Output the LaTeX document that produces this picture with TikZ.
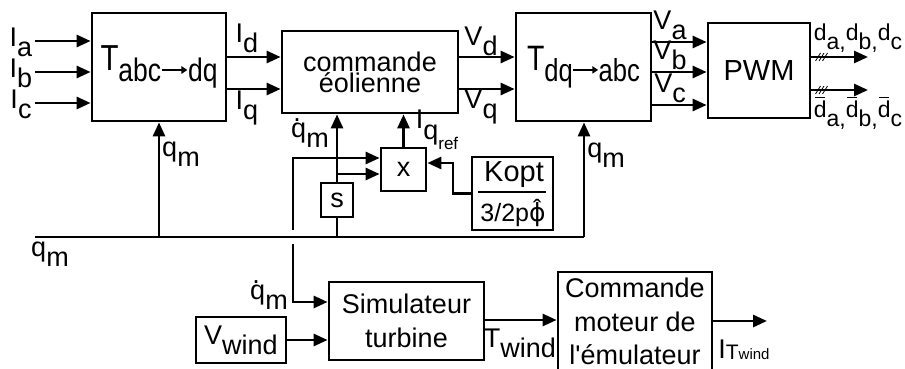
\documentclass[tikz,border=0pt]{standalone}
\usepackage{graphicx}
\usepackage{fontspec}
\setmainfont{Liberation Sans}
\newfontfamily\djv{DejaVu Sans}
\usetikzlibrary{arrows.meta}
\newcommand\fA{\fontsize{27}{27}\selectfont}
\newcommand\sbx[1]{\raisebox{-0.38em}{#1}}
\newcommand\Tsub[4]{\resizebox*{#3}{#4}{{\fontsize{30}{30}\selectfont T}\raisebox{-0.35em}{\fontsize{27}{27}\selectfont #1\raisebox{0.25em}{\tikz\draw[line width=1.3pt,-{Triangle[length=6pt,width=6pt]}] (0pt,0pt) -- (26pt,0pt);}#2}}}
\newcommand\qdot{\leavevmode\setbox0\hbox{q}\rlap{\hbox to\wd0{\hss\raisebox{0.6em}{.}\hspace{0.12em}\hss}}\box0}
\newcommand\hphi{\leavevmode\setbox0\hbox{\djv ϕ}\rlap{\hbox to\wd0{\hss\raisebox{0.16em}{ˆ}\hss}}\box0}
\newcommand\dbar{\leavevmode\setbox0\hbox{d}\rlap{\hbox to\wd0{\hss\raisebox{0.82em}{\rule{0.75\wd0}{1.4pt}}\hss}}\box0}
\tikzset{
  blk/.style={draw, line width=2.8pt, inner sep=0pt, align=center},
  wire/.style={line width=2.8pt},
  sig/.style={line width=2.8pt, -{Triangle[length=14pt,width=12pt]}},
  lbl/.style={inner sep=0pt}
}
\begin{document}
\begin{tikzpicture}[x=1pt,y=-1pt, every node/.style={font=\fA}]
\path[use as bounding box, fill=white] (0,0) rectangle (905,369);
\clip (0,0) rectangle (905,369);
% blocks
\node[blk, minimum width=134pt, minimum height=108pt] (tabc) at (159,67) {\Tsub{abc}{dq}{117pt}{43pt}};
\node[blk, minimum width=176pt, minimum height=82pt, font=\fontsize{27}{20}\selectfont] (cmd) at (370,72) {commande\\éolienne};
\node[blk, minimum width=135pt, minimum height=108pt] (tdq) at (583.5,67) {\Tsub{dq}{abc}{113pt}{42pt}};
\node[blk, minimum width=102pt, minimum height=95pt, font=\fontsize{29}{29}\selectfont] (pwm) at (759,70.5) {PWM};
\node[blk, minimum width=32pt, minimum height=34pt] (sbox) at (337,200) {s};
\node[blk, minimum width=45pt, minimum height=43pt] (xbox) at (403.5,169.5) {x};
\node[blk, minimum width=81pt, minimum height=73pt] (kopt) at (512.5,193.5) {};
\node[blk, minimum width=155pt, minimum height=78pt, font=\fontsize{27}{34}\selectfont] (sim) at (406.5,321) {Simulateur\\turbine};
\node[blk, minimum width=90pt, minimum height=46pt] (vw) at (241,340) {V\sbx{wind}};
\node[blk, minimum width=154pt, minimum height=112pt] (cmot) at (635,328) {};
\node[lbl, anchor=base] (cm1) at (635,297) {Commande};
\node[lbl, anchor=base] (cm2) at (635,331) {moteur de};
\node[lbl, anchor=base] (cm3) at (635,364) {l\textquotesingle émulateur};
% Kopt fraction
\node[lbl, font=\fontsize{29}{29}\selectfont] (kn) at (514,175) {Kopt};
\node[lbl, font=\fontsize{25}{25}\selectfont] (kd) at (513,213) {3/2p\hphi};
\draw[line width=1.6pt] (478,192) -- (546,192);
% inputs to Tabc
\coordinate (ia) at (35,41);
\coordinate (ib) at (35,72);
\coordinate (ic) at (35,103);
\draw[sig] (ia) -- (ia -| tabc.west);
\draw[sig] (ib) -- (ib -| tabc.west);
\draw[sig] (ic) -- (ic -| tabc.west);
\node[lbl] (la) at (21,42) {I\sbx{a}};
\node[lbl] (lb) at (21,73) {I\sbx{b}};
\node[lbl] (lc) at (21,104) {I\sbx{c}};
% Id Iq
\draw[sig] (tabc.east |- 0,57) -- (cmd.west |- 0,57);
\draw[sig] (tabc.east |- 0,89) -- (cmd.west |- 0,89);
\node[lbl] (lid) at (247,38) {I\sbx{d}};
\node[lbl] (liq) at (247,108) {I\sbx{q}};
% Vd Vq
\draw[sig] (cmd.east |- 0,57) -- (tdq.west |- 0,57);
\draw[sig] (cmd.east |- 0,89) -- (tdq.west |- 0,89);
\node[lbl] (lvd) at (481,41) {V\sbx{d}};
\node[lbl] (lvq) at (481,107) {V\sbx{q}};
% Va Vb Vc
\draw[sig] (tdq.east |- 0,42) -- (pwm.west |- 0,42);
\draw[sig] (tdq.east |- 0,72) -- (pwm.west |- 0,72);
\draw[sig] (tdq.east |- 0,105) -- (pwm.west |- 0,105);
\node[lbl] (lva) at (670,25) {V\sbx{a}};
\node[lbl] (lvb) at (670,55) {V\sbx{b}};
\node[lbl] (lvc) at (670,88) {V\sbx{c}};
% PWM outputs
\coordinate (o1) at (868,57);
\coordinate (o2) at (868,90);
\draw[sig] (pwm.east |- o1) -- (o1);
\draw[sig] (pwm.east |- o2) -- (o2);
\foreach \yy in {57,90} \foreach \xx in {818,821.5,825} \draw[line width=0.8pt] (\xx-2.5,\yy+4) -- (\xx+2.5,\yy-4);
\node[lbl, font=\fontsize{23}{23}\selectfont] (ld) at (858,38) {d\sbx{a,}d\sbx{b,}d\sbx{c}};
\node[lbl, font=\fontsize{23}{23}\selectfont] (ldb) at (858,113) {\dbar\sbx{a,}\dbar\sbx{b,}\dbar\sbx{c}};
% bus qm
\coordinate (busL) at (35,237);
\coordinate (busR) at (584,237);
\draw[wire] (busL) -- (busR);
\draw[sig] (busR) -- (busR |- tdq.south);
\draw[sig] (tabc.south |- busL) -- (tabc.south);
\node[lbl] (lqm1) at (181,154) {q\sbx{m}};
\node[lbl] (lqm2) at (606,155) {q\sbx{m}};
\node[lbl] (lqm0) at (50,254) {q\sbx{m}};
% s block and derivative
\draw[wire] (sbox.south |- busL) -- (sbox.south);
\draw[sig] (sbox.north) -- (sbox.north |- cmd.south);
\coordinate (br) at (337,174);
\draw[sig] (br) -- (br -| xbox.west);
\node[lbl] (lqd1) at (310,133) {\qdot\sbx{m}};
% qdot line to x and to simulator
\coordinate (dq1) at (293,158);
\draw[sig] (dq1 |- 0,230) -- (dq1) -- (dq1 -| xbox.west);
\draw[sig] (293,244) |- ([yshift=19pt]sim.west);
\node[lbl] (lqd2) at (269,295) {\qdot\sbx{m}};
% Kopt to x
\draw[sig] (kopt.west) -| (453,163) -- (xbox.east |- 0,163);
% x to commande
\draw[sig] (xbox.north) -- (xbox.north |- cmd.south);
\node[lbl] (liqr) at (437,130) {I\sbx{q\sbx{\fontsize{17}{17}\selectfont ref}}};
% lower chain
\draw[sig] (vw.east) -- (vw.east -| sim.west);
\draw[sig] (sim.east |- 0,320) -- (cmot.west |- 0,320);
\node[lbl] (ltw) at (520,343) {T\sbx{wind}};
\coordinate (out) at (767,321);
\draw[sig] (cmot.east |- out) -- (out);
\node[lbl] (litw) at (744,350) {I\raisebox{-0.05em}{\fontsize{21}{21}\selectfont T\fontsize{15}{15}\selectfont wind}};
\end{tikzpicture}
\end{document}
